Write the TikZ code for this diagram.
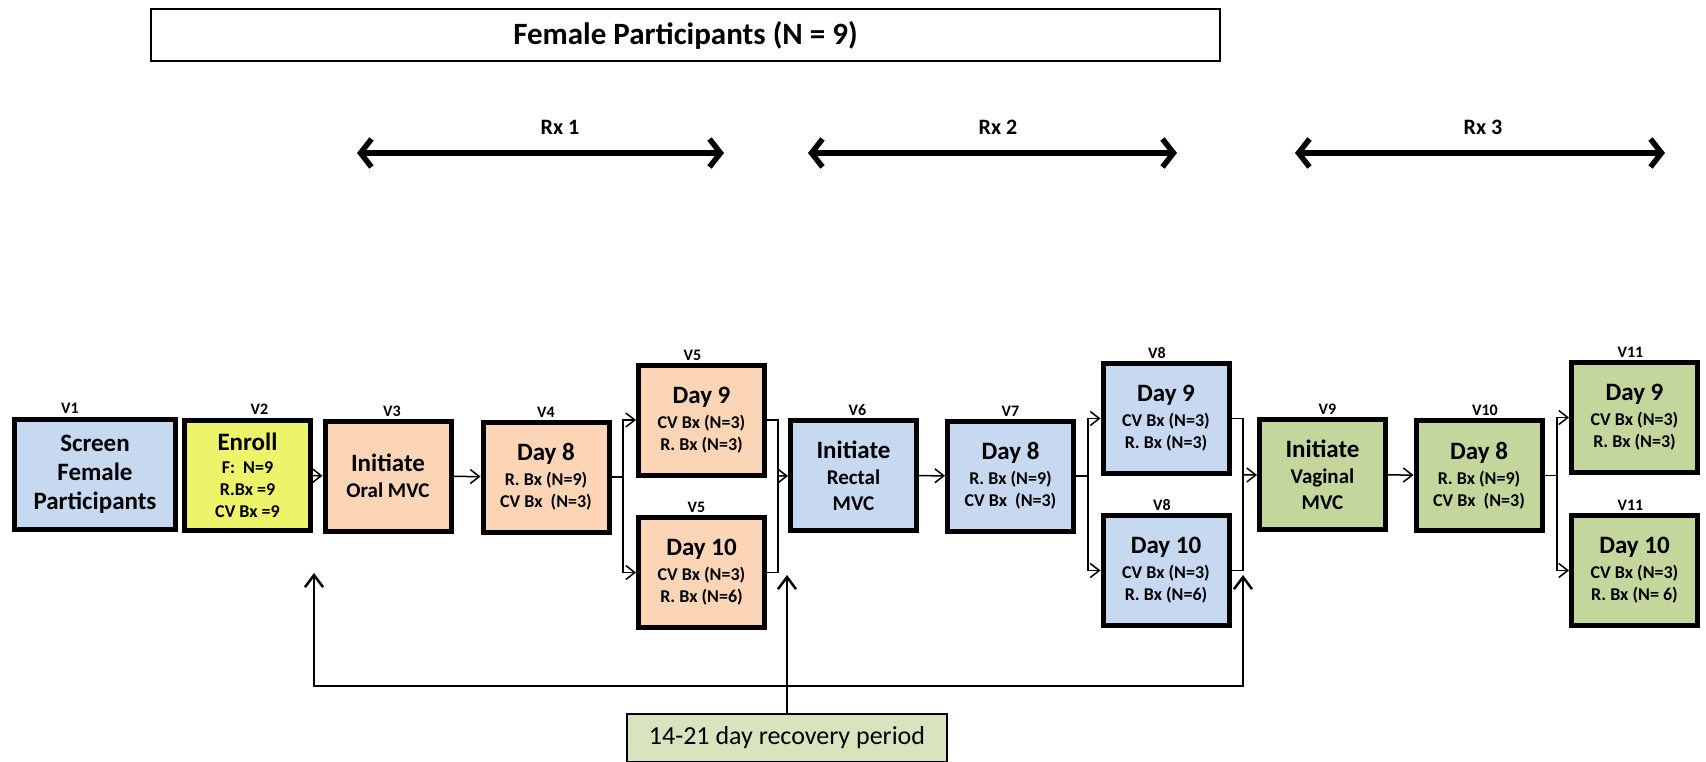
\documentclass[tikz,border=0pt]{standalone}
\usepackage{fontspec}
\setmainfont{Carlito}
\usetikzlibrary{arrows.meta}
\usetikzlibrary{positioning}

\definecolor{visitblue}{HTML}{C6D9F1}
\definecolor{visitpeach}{HTML}{FBD5B5}
\definecolor{visitgreen}{HTML}{C3D69B}
\definecolor{visityellow}{HTML}{EEF46A}
\definecolor{restgreen}{HTML}{D7E4BD}

\newcommand{\boxhead}[1]{{\fontsize{25}{25}\selectfont #1}}
\newcommand{\boxmid}[1]{{\fontsize{21}{21}\selectfont #1}}

\begin{document}
\begin{tikzpicture}[x=1pt,y=-1pt]
    \tikzset{visit/.style = {shape=rectangle,draw,line width=5pt,minimum width=126pt,minimum height=110pt,inner sep=1pt,align=center,font=\fontsize{18}{22}\selectfont\bfseries}}
    \tikzset{vlabel/.style = {shape=rectangle,draw=none,inner sep=0pt,font=\fontsize{16}{16}\selectfont\bfseries}}
    \tikzset{rxlabel/.style = {shape=rectangle,draw=none,inner sep=0pt,font=\fontsize{22}{22}\selectfont\bfseries}}
    \tikzset{edge/.style = {-{Straight Barb[length=9pt,width=14pt]},line width=1.5pt}}
    \tikzset{link/.style = {-,line width=1.5pt}}
    \tikzset{rxarrow/.style = {{Straight Barb[length=11pt,width=28pt]}-{Straight Barb[length=11pt,width=28pt]},line width=5.5pt}}
    \tikzset{back/.style = {{Straight Barb[length=12pt,width=18pt]}-{Straight Barb[length=12pt,width=18pt]},line width=2.5pt}}
    \tikzset{up/.style = {-{Straight Barb[length=12pt,width=18pt]},line width=2.5pt}}

    \useasboundingbox (0,0) rectangle (1706,762);

    % header
    \node[draw,line width=2pt,minimum width=1069pt,minimum height=52pt,font=\fontsize{31}{31}\selectfont\bfseries] (title) at (685.5,35) {Female Participants (N = 9)};

    \node[rxlabel] (rx1) at (560,127) {Rx 1};
    \node[rxlabel] (rx2) at (998,127) {Rx 2};
    \node[rxlabel] (rx3) at (1483,127) {Rx 3};
    \coordinate (a1) at (357,153);
    \coordinate (b1) at (724,153);
    \coordinate (a2) at (808,153);
    \coordinate (b2) at (1177,153);
    \coordinate (a3) at (1295,153);
    \coordinate (b3) at (1665,153);
    \draw[rxarrow] (a1) -- (b1);
    \draw[rxarrow] (a2) -- (b2);
    \draw[rxarrow] (a3) -- (b3);

    % vertices
    \node[visit,fill=visitblue,minimum width=161pt,font=\fontsize{25}{29}\selectfont\bfseries] (v1) at (95,474.5) {Screen\\Female\\Participants};
    \node[visit,fill=visityellow] (v2) at (247.5,475.5) {\boxhead{Enroll}\\[1pt]F:~~N=9\\R.Bx =9\\CV Bx =9};
    \node[visit,fill=visitpeach] (v3) at (388,476) {\boxhead{Initiate}\\[4pt]\boxmid{Oral MVC}};
    \node[visit,fill=visitpeach] (v4) at (546,477) {\boxhead{Day 8}\\[3pt]R. Bx (N=9)\\CV Bx~~(N=3)};
    \node[visit,fill=visitpeach] (v5a) at (701.5,420) {\boxhead{Day 9}\\[3pt]CV Bx (N=3)\\R. Bx (N=3)};
    \node[visit,fill=visitpeach] (v5b) at (701.5,572.5) {\boxhead{Day 10}\\[3pt]CV Bx (N=3)\\R. Bx (N=6)};
    \node[visit,fill=visitblue] (v6) at (853.5,475.5) {\boxhead{Initiate}\\[4pt]\boxmid{Rectal}\\[4pt]\boxmid{MVC}};
    \node[visit,fill=visitblue] (v7) at (1010.5,476) {\boxhead{Day 8}\\[3pt]R. Bx (N=9)\\CV Bx~~(N=3)};
    \node[visit,fill=visitblue] (v8a) at (1166,418.5) {\boxhead{Day 9}\\[3pt]CV Bx (N=3)\\R. Bx (N=3)};
    \node[visit,fill=visitblue] (v8b) at (1166,570.5) {\boxhead{Day 10}\\[3pt]CV Bx (N=3)\\R. Bx (N=6)};
    \node[visit,fill=visitgreen] (v9) at (1322.5,474.5) {\boxhead{Initiate}\\[4pt]\boxmid{Vaginal}\\[4pt]\boxmid{MVC}};
    \node[visit,fill=visitgreen] (v10) at (1479,475.5) {\boxhead{Day 8}\\[3pt]R. Bx (N=9)\\CV Bx~~(N=3)};
    \node[visit,fill=visitgreen] (v11a) at (1634.5,417.5) {\boxhead{Day 9}\\[3pt]CV Bx (N=3)\\R. Bx (N=3)};
    \node[visit,fill=visitgreen] (v11b) at (1634.5,570.5) {\boxhead{Day 10}\\[3pt]CV Bx (N=3)\\R. Bx (N= 6)};

    % visit numbers
    \node[vlabel,above=3pt of v1,xshift=-25pt] (t1) {V1};
    \node[vlabel,above=3pt of v2,xshift=12pt] (t2) {V2};
    \node[vlabel,above=2pt of v3,xshift=4pt] (t3) {V3};
    \node[vlabel,above=2pt of v4] (t4) {V4};
    \node[vlabel,above=2pt of v5a,xshift=-9pt] (t5a) {V5};
    \node[vlabel,above=2pt of v5b,xshift=-5pt] (t5b) {V5};
    \node[vlabel,above=2pt of v6,xshift=4pt] (t6) {V6};
    \node[vlabel,above=2pt of v7] (t7) {V7};
    \node[vlabel,above=2pt of v8a,xshift=-9pt] (t8a) {V8};
    \node[vlabel,above=2pt of v8b,xshift=-4pt] (t8b) {V8};
    \node[vlabel,above=2pt of v9,xshift=5pt] (t9) {V9};
    \node[vlabel,above=2pt of v10,xshift=6pt] (t10) {V10};
    \node[vlabel,above=2pt of v11a,xshift=-4pt] (t11a) {V11};
    \node[vlabel,above=2pt of v11b,xshift=-4pt] (t11b) {V11};

    \node[draw,line width=2pt,fill=restgreen,minimum width=320pt,minimum height=48pt,font=\fontsize{26}{26}\selectfont] (rec) at (787,738) {14-21 day recovery period};

    % branch and merge points
    \coordinate (s1) at (623,477);
    \coordinate (m1) at (778,476);
    \coordinate (s2) at (1088,476);
    \coordinate (m2) at (1243,475);
    \coordinate (s3) at (1557,475.5);
    \coordinate (r1) at (314,686);
    \coordinate (r2) at (1243,686);
    \coordinate (u1) at (314,573);
    \coordinate (u2) at (787,575);
    \coordinate (u3) at (1243,575);

    %edges
    \draw[edge] (v2) to (v3);
    \draw[edge] (v3) to (v4);
    \draw[link] (v4) -- (s1);
    \draw[edge] (s1) |- (v5a);
    \draw[edge] (s1) |- (v5b);
    \draw[link] (v5a.east) -| (m1) |- (v5b.east);
    \draw[edge] (m1) -- (v6);
    \draw[edge] (v6) to (v7);
    \draw[link] (v7) -- (s2);
    \draw[edge] (s2) |- (v8a);
    \draw[edge] (s2) |- (v8b);
    \draw[link] (v8a.east) -| (m2) |- (v8b.east);
    \draw[edge] (m2) -- (v9);
    \draw[edge] (v9) to (v10);
    \draw[link] (v10) -- (s3);
    \draw[edge] (s3) |- (v11a);
    \draw[edge] (s3) |- (v11b);

    % recovery period
    \draw[back] (u1) -- (r1) -- (r2) -- (u3);
    \draw[up] (rec) -- (u2);
\end{tikzpicture}
\end{document}
